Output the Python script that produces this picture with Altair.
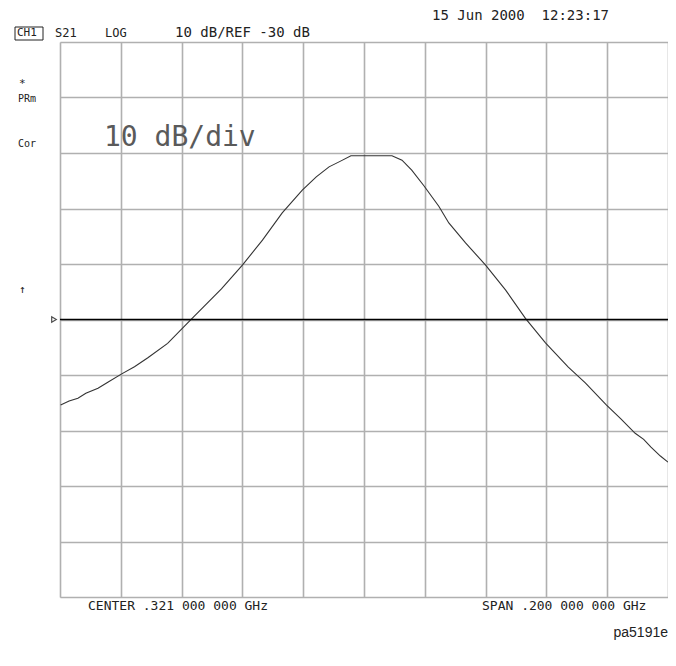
import altair as alt
import pandas as pd

# Trace (frequency MHz, S21 dB)
freq_mhz = [221.2, 224.0, 226.9, 229.5, 233.5, 237.0, 241.3, 245.5, 249.9, 256.4,
            264.3, 274.1, 281.0, 287.6, 294.1, 300.7, 305.3, 309.5, 312.8, 316.7,
            323.0, 330.2, 333.5, 336.7, 340.7, 345.6, 348.9, 354.4, 361.0, 367.6,
            374.1, 380.7, 388.2, 393.8, 400.7, 405.5, 410.2, 413.0, 415.4, 418.5, 421.0]
s21_db = [-45.4, -44.7, -44.2, -43.3, -42.4, -41.2, -39.8, -38.5, -36.9, -34.3,
          -29.9, -24.5, -20.2, -15.7, -10.8, -6.7, -4.3, -2.5, -1.6, -0.5,
          -0.5, -0.5, -1.3, -3.1, -5.9, -9.6, -12.6, -16.2, -20.2, -24.7,
          -29.8, -34.2, -38.6, -41.4, -45.4, -47.9, -50.5, -51.6, -53.0, -54.6, -55.7]

grid_x = [221 + 20 * i for i in range(11)]
grid_y = [20 - 10 * i for i in range(11)]
ref_level = [-30]

NB = "\u00a0"
labels = ["15 Jun 2000" + NB + NB + "12:23:17", "S21", "LOG", "10 dB/REF -30 dB", "CH1",
          "*", "PRm", "Cor", "\u2191", "CENTER .321 000 000 GHz",
          "SPAN .200 000 000 GHz"]
label_pos = [(432, 16, 14), (55, 33, 12), (105, 33, 12), (175, 33, 14), (17, 33, 11),
             (19, 84, 11), (18, 99, 10), (18, 144, 10), (19, 290, 11), (88, 606, 13),
             (482, 606, 13)]

W, H = 608, 555
OX, OY = 60, 42

df = pd.DataFrame({"f": freq_mhz, "db": s21_db})

xs = alt.Scale(domain=[221, 421], nice=False, zero=False)
ys = alt.Scale(domain=[-80, 20], nice=False, zero=False)

base = alt.Chart(df).mark_line(color="#333333", strokeWidth=1.1, interpolate="linear").encode(
    x=alt.X("f:Q", scale=xs,
            axis=alt.Axis(values=grid_x, labels=False, ticks=False, domain=False, title=None,
                          grid=True, gridColor="#b0b0b0", gridWidth=1.6)),
    y=alt.Y("db:Q", scale=ys,
            axis=alt.Axis(values=grid_y, labels=False, ticks=False, domain=False, title=None,
                          grid=True, gridColor="#b0b0b0", gridWidth=1.6)),
)

refdf = pd.DataFrame({"r": ref_level})
ref = alt.Chart(refdf).mark_rule(color="black", strokeWidth=1.3).encode(y=alt.Y("r:Q", scale=ys))
marker = alt.Chart(refdf).mark_point(shape="triangle-right", filled=False, color="black",
                                     size=28, strokeWidth=1.2).encode(
    y=alt.Y("r:Q", scale=ys), x=alt.value(-6))

layers = [base, ref, marker]
for txt, (px, py, fs) in zip(labels, label_pos):
    layers.append(
        alt.Chart(refdf).mark_text(align="left", baseline="middle", font="DejaVu Sans Mono",
                                   fontSize=fs, color="#222222").encode(
            x=alt.value(px - OX), y=alt.value(py - OY), text=alt.value(txt)))

# box around CH1
layers.append(alt.Chart(refdf).mark_rect(fillOpacity=0, stroke="#222222", strokeWidth=1).encode(
    x=alt.value(15 - OX), x2=alt.value(43 - OX), y=alt.value(27 - OY), y2=alt.value(40 - OY)))

# big "10 dB/div"
layers.append(alt.Chart(refdf).mark_text(align="left", baseline="middle", font="DejaVu Sans Mono",
                                         fontSize=28, color="#5a5a5a").encode(
    x=alt.value(104 - OX), y=alt.value(138 - OY), text=alt.value("10 dB/div")))

# figure id
layers.append(alt.Chart(refdf).mark_text(align="right", baseline="middle", font="Liberation Sans",
                                         fontSize=14, color="#222222").encode(
    x=alt.value(W), y=alt.value(633 - OY), text=alt.value("pa5191e")))

chart = alt.layer(*layers).properties(
    width=W, height=H,
    autosize=alt.AutoSizeParams(type="none"),
    padding={"left": OX - 8, "top": OY - 8, "right": 0, "bottom": 60},
).configure_view(stroke="#b0b0b0", strokeWidth=1.6).configure(background="white")

chart.save("out.html", embed_options={"renderer": "svg", "actions": False})
